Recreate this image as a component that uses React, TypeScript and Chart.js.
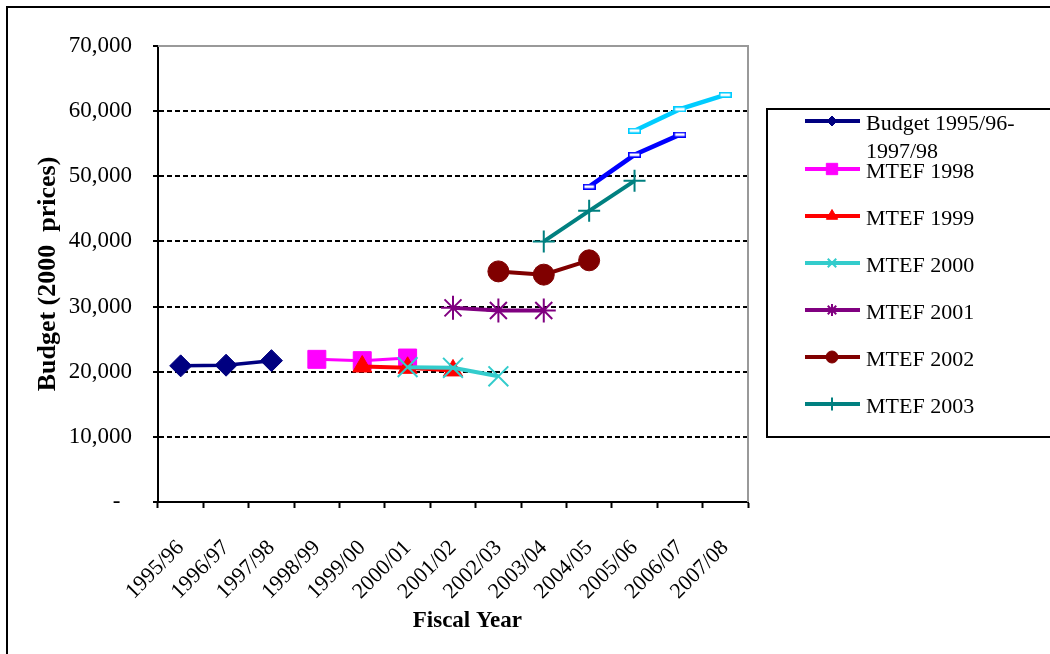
import React, { useEffect, useRef } from 'react';
import { Chart, registerables } from 'chart.js';
import { drawPoint } from 'chart.js/helpers';

Chart.register(...registerables);

const categories = [
  '1995/96', '1996/97', '1997/98', '1998/99', '1999/00', '2000/01', '2001/02',
  '2002/03', '2003/04', '2004/05', '2005/06', '2006/07', '2007/08',
];

const budget9598 = [20900, 21000, 21700, null, null, null, null, null, null, null, null, null, null];
const mtef1998 = [null, null, null, 21900, 21700, 22100, null, null, null, null, null, null, null];
const mtef1999 = [null, null, null, null, 20800, 20600, 20200, null, null, null, null, null, null];
const mtef2000 = [null, null, null, null, null, 20700, 20600, 19300, null, null, null, null, null];
const mtef2001 = [null, null, null, null, null, null, 29800, 29400, 29400, null, null, null, null];
const mtef2002 = [null, null, null, null, null, null, null, 35400, 34900, 37100, null, null, null];
const mtef2003 = [null, null, null, null, null, null, null, null, 40000, 44700, 49300, null, null];
const mtef2004 = [null, null, null, null, null, null, null, null, null, 48400, 53300, 56400, null];
const mtef2005 = [null, null, null, null, null, null, null, null, null, null, 57000, 60300, 62500];

const seriesNames = [
  'Budget 1995/96-1997/98', 'MTEF 1998', 'MTEF 1999', 'MTEF 2000', 'MTEF 2001',
  'MTEF 2002', 'MTEF 2003', 'MTEF 2004', 'MTEF 2005',
];
const legendLines = [
  ['Budget 1995/96-', '1997/98'], ['MTEF 1998'], ['MTEF 1999'], ['MTEF 2000'],
  ['MTEF 2001'], ['MTEF 2002'], ['MTEF 2003'],
];

const FONT = "'Liberation Serif', 'Times New Roman', serif";

function rectMarker(color: string): HTMLCanvasElement {
  const c = document.createElement('canvas');
  c.width = 13;
  c.height = 6;
  const g = c.getContext('2d')!;
  g.fillStyle = '#fff';
  g.fillRect(0, 0, 13, 6);
  g.strokeStyle = color;
  g.lineWidth = 1.6;
  g.strokeRect(0.8, 0.8, 11.4, 4.4);
  return c;
}

const framePlugin = {
  id: 'frame',
  beforeDraw(chart: any) {
    const ctx = chart.ctx;
    ctx.save();
    ctx.fillStyle = '#fff';
    ctx.fillRect(0, 0, chart.width, chart.height);
    ctx.strokeStyle = '#000';
    ctx.lineWidth = 2;
    ctx.strokeRect(7, 7, chart.width + 20, chart.height + 20);
    ctx.restore();
  },
  beforeDatasetsDraw(chart: any) {
    const { ctx, chartArea } = chart;
    ctx.save();
    ctx.strokeStyle = '#999999';
    ctx.lineWidth = 2;
    ctx.beginPath();
    ctx.moveTo(chartArea.left, chartArea.top);
    ctx.lineTo(chartArea.right, chartArea.top);
    ctx.lineTo(chartArea.right, chartArea.bottom);
    ctx.stroke();
    ctx.restore();
  },
};

const legendRadius = [5, 8, 6.5, 6, 6, 6, 6.5];

const legendPlugin = {
  id: 'boxLegend',
  afterDraw(chart: any) {
    const ctx = chart.ctx;
    ctx.save();
    ctx.strokeStyle = '#000';
    ctx.lineWidth = 2;
    ctx.strokeRect(767, 109, 320, 328);
    const rowY = [121, 169, 216, 263, 310, 357, 404];
    ctx.font = `22px ${FONT}`;
    ctx.textBaseline = 'middle';
    ctx.textAlign = 'left';
    legendLines.forEach((lines, i) => {
      const ds = chart.data.datasets[i];
      const y = rowY[i];
      ctx.strokeStyle = ds.borderColor;
      ctx.lineWidth = 4;
      ctx.beginPath();
      ctx.moveTo(805, y);
      ctx.lineTo(860, y);
      ctx.stroke();
      ctx.fillStyle = ds.pointBackgroundColor;
      ctx.strokeStyle = ds.pointBorderColor;
      ctx.lineWidth = ds.pointBorderWidth;
      drawPoint(ctx, { pointStyle: ds.pointStyle, rotation: 0, radius: legendRadius[i], borderWidth: ds.pointBorderWidth }, 832, y);
      ctx.fillStyle = '#000';
      lines.forEach((t, k) => ctx.fillText(t, 866, y + 3 + k * 28));
    });
    ctx.restore();
  },
};

export default function App() {
  const ref = useRef<HTMLCanvasElement | null>(null);

  useEffect(() => {
    if (!ref.current) return;
    const mk = (
      i: number, data: (number | null)[], color: string, style: any, radius: number,
      opts: any = {}
    ) => ({
      label: seriesNames[i],
      data,
      borderColor: color,
      backgroundColor: color,
      borderWidth: 4,
      pointStyle: style,
      pointRadius: radius,
      pointBackgroundColor: color,
      pointBorderColor: color,
      pointBorderWidth: 1,
      spanGaps: false,
      tension: 0,
      order: 20 - i,
      ...opts,
    });

    const chart = new Chart(ref.current, {
      type: 'line',
      data: {
        labels: categories,
        datasets: [
          mk(0, budget9598, '#000080', 'rectRot', 11, { borderWidth: 3.5 }),
          mk(1, mtef1998, '#FF00FF', 'rect', 12.7, { borderWidth: 3 }),
          mk(2, mtef1999, '#FF0000', 'triangle', 11),
          mk(3, mtef2000, '#33CCCC', 'crossRot', 14, { pointBorderWidth: 2 }),
          mk(4, mtef2001, '#800080', 'star', 12, { pointBorderWidth: 2 }),
          mk(5, mtef2002, '#800000', 'circle', 10.5),
          mk(6, mtef2003, '#008080', 'cross', 11, { pointBorderWidth: 2 }),
          mk(7, mtef2004, '#0000FF', rectMarker('#0000FF'), 6, { borderWidth: 4.5 }),
          mk(8, mtef2005, '#00CCFF', rectMarker('#00CCFF'), 6, { borderWidth: 4.5 }),
        ],
      },
      options: {
        responsive: false,
        animation: false,
        events: [],
        layout: { padding: { top: 46, right: 302, left: 0, bottom: 0 } },
        plugins: {
          legend: { display: false },
          tooltip: { enabled: false },
          title: { display: false },
        },
        scales: {
          x: {
            type: 'category',
            offset: true,
            afterFit: (s: any) => { s.height = 152; },
            grid: {
              offset: true,
              drawOnChartArea: false,
              drawTicks: true,
              tickLength: 6,
              tickColor: '#000',
              tickWidth: 2,
            },
            border: { display: true, color: '#000', width: 2 },
            ticks: {
              autoSkip: false,
              minRotation: 45,
              maxRotation: 45,
              padding: 27,
              color: '#000',
              font: { family: FONT, size: 22 },
            },
            title: {
              display: true,
              text: '\u00A0\u00A0\u00A0\u00A0\u00A0Fiscal Year',
              color: '#000',
              font: { family: FONT, size: 23, weight: 'bold' },
              padding: { top: 0, bottom: 19 },
            },
          },
          y: {
            min: 0,
            max: 70000,
            afterFit: (s: any) => { s.width = 158; },
            ticks: {
              stepSize: 10000,
              padding: 21,
              color: '#000',
              font: { family: FONT, size: 23 },
              callback: (v: any) => (Number(v) === 0 ? '-  ' : Number(v).toLocaleString('en-US')),
            },
            grid: {
              drawOnChartArea: true,
              drawTicks: true,
              tickLength: 5,
              tickColor: '#000',
              tickWidth: 2,
              tickBorderDash: [],
              lineWidth: 2,
              color: (c: any) =>
                c.tick && (c.tick.value === 0 || c.tick.value === 70000) ? 'rgba(0,0,0,0)' : '#000',
            },
            border: { display: true, color: '#000', width: 2, dash: [5, 3] },
            title: {
              display: true,
              text: 'Budget (2000  prices)',
              color: '#000',
              font: { family: FONT, size: 26, weight: 'bold' },
              padding: { top: 33, bottom: 0 },
            },
          },
        },
      },
      plugins: [framePlugin, legendPlugin],
    } as any);
    return () => chart.destroy();
  }, []);

  return (
    <div style={{ position: 'absolute', left: 0, top: 0, width: 1050, height: 654, background: '#fff' }}>
      <canvas ref={ref} width={1050} height={654} />
    </div>
  );
}
